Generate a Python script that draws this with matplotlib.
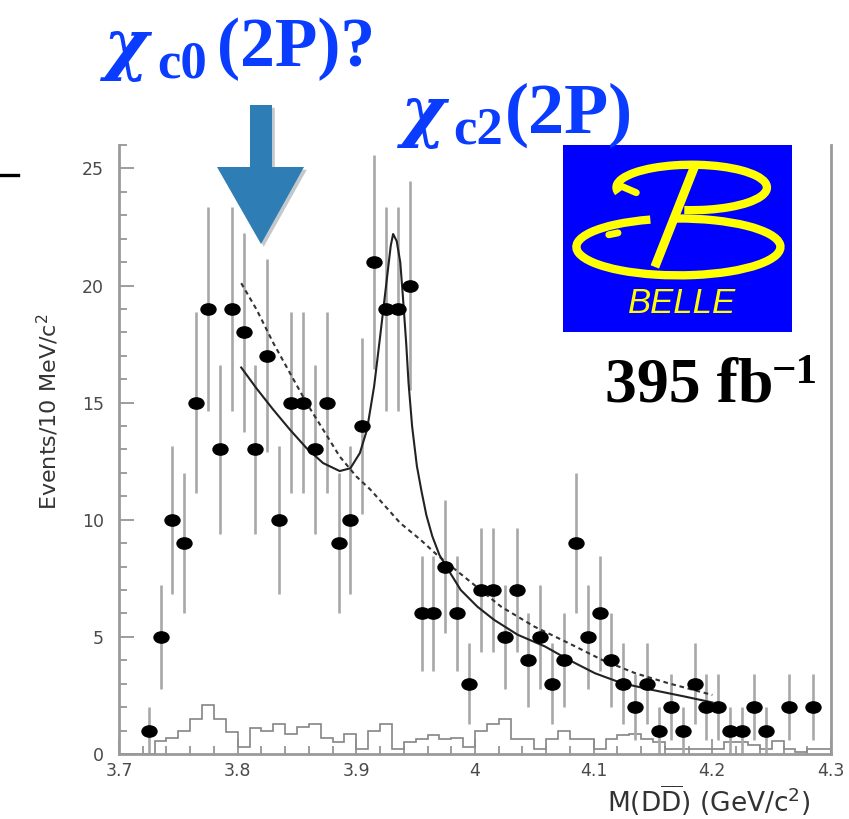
import numpy as np
import matplotlib
matplotlib.use("Agg")
import matplotlib.pyplot as plt
import matplotlib.patheffects as pe
from matplotlib.patches import Polygon, Arc
from matplotlib.path import Path
from matplotlib.transforms import Affine2D
from matplotlib.ticker import MultipleLocator, FixedLocator
from matplotlib.lines import Line2D

W, H = 849, 819


def fx(px):
    return px / W


def fy(py):
    return 1 - py / H


# data points (bin centres, 10 MeV bins)
mass = [3.725, 3.735, 3.745, 3.755, 3.765, 3.775, 3.785, 3.795, 3.805, 3.815,
        3.825, 3.835, 3.845, 3.855, 3.865, 3.875, 3.885, 3.895, 3.905, 3.915,
        3.925, 3.935, 3.945, 3.955, 3.965, 3.975, 3.985, 3.995, 4.005, 4.015,
        4.025, 4.035, 4.045, 4.055, 4.065, 4.075, 4.085, 4.095, 4.105, 4.115,
        4.125, 4.135, 4.145, 4.155, 4.165, 4.175, 4.185, 4.195, 4.205, 4.215,
        4.225, 4.235, 4.245, 4.255, 4.265, 4.275, 4.285]
counts = [1, 5, 10, 9, 15, 19, 13, 19, 18, 13,
          17, 10, 15, 15, 13, 15, 9, 10, 14, 21,
          19, 19, 20, 6, 6, 8, 6, 3, 7, 7,
          5, 7, 4, 5, 3, 4, 9, 5, 6, 4,
          3, 2, 3, 1, 2, 1, 3, 2, 2, 1,
          1, 2, 1, 0, 2, 0, 2]

# fit: signal + background (solid)
fit_x = [3.803, 3.816, 3.830, 3.844, 3.858, 3.872, 3.886, 3.895, 3.903, 3.909,
         3.915, 3.920, 3.926, 3.929, 3.931, 3.934, 3.937, 3.939, 3.942, 3.944,
         3.947, 3.951, 3.955, 3.959, 3.964, 3.970, 3.977, 3.988, 4.002, 4.016,
         4.036, 4.059, 4.079, 4.101, 4.124, 4.149, 4.177, 4.200]
fit_y = [16.5, 15.6, 14.7, 13.85, 13.06, 12.42, 12.08, 12.2, 12.85, 13.85,
         15.7, 17.8, 20.4, 21.7, 22.2, 21.9, 21.0, 19.7, 17.55, 15.84,
         13.99, 12.3, 11.2, 10.2, 9.3, 8.5, 7.9, 7.0, 6.29, 5.73,
         5.09, 4.59, 4.02, 3.45, 3.02, 2.74, 2.45, 2.2]

# background-only fit (dashed)
bkg_x = [3.803, 3.816, 3.830, 3.844, 3.858, 3.872, 3.886, 3.900, 3.912, 3.937,
         3.954, 3.968, 3.994, 4.022, 4.050, 4.079, 4.107, 4.135, 4.163, 4.200]
bkg_y = [20.1, 18.97, 17.55, 16.27, 14.99, 13.85, 12.7, 11.85, 11.28, 9.86,
         9.15, 8.5, 7.44, 6.29, 5.44, 4.73, 4.02, 3.45, 3.02, 2.52]

# sideband histogram (3.70 - 4.30, 10 MeV bins)
hist_vals = [0, 0, 0, 0.55, 0.7, 1.0, 1.5, 2.1, 1.5, 0.95,
             0.3, 1.1, 1.0, 1.3, 0.85, 1.15, 1.3, 0.7, 0.5, 0.85,
             0.2, 1.0, 1.3, 0.2, 0.5, 0.65, 0.8, 0.65, 0.7, 0.3,
             1.0, 1.3, 1.5, 0.65, 0.65, 0.2, 0.65, 1.0, 0.65, 0.65,
             0.2, 0.65, 0.8, 0.85, 0.65, 0.5, 0.2, 0.2, 0.2, 0.2,
             0.2, 0.5, 0.5, 0.4, 0.2, 0.55, 0.2, 0.1, 0.2, 0.2]
hist_edges = np.round(np.linspace(3.70, 4.30, len(hist_vals) + 1), 3)

xticks = [3.7, 3.8, 3.9, 4.0, 4.1, 4.2, 4.3]
xticklabels = ["3.7", "3.8", "3.9", "4", "4.1", "4.2", "4.3"]
yticks = [0, 5, 10, 15, 20, 25]

fig = plt.figure(figsize=(W / 100, H / 100), dpi=100)
ax = fig.add_axes([fx(119), fy(754), (831 - 119) / W, (754 - 145) / H])

m = np.array(mass)
c = np.array(counts, dtype=float)
ok = c > 0
err = np.sqrt(c[ok])

ax.stairs(hist_vals, hist_edges, color="#858585", lw=1.2)
ax.vlines(m[ok], c[ok] - err, c[ok] + err, color="#a8a8a8", lw=1.9, zorder=2)
ax.plot(bkg_x, bkg_y, color="#333333", lw=1.5, ls=(0, (2.2, 1.8)), zorder=3)
ax.plot(fit_x, fit_y, color="#222222", lw=1.5, zorder=3)
ell = Path.unit_circle().transformed(Affine2D().scale(1.0, 0.75))
ax.plot(m[ok], c[ok], ls="none", marker=ell, ms=10.8, color="black", zorder=4)

ax.set_xlim(3.7, 4.3)
ax.set_ylim(0, 26)
ax.xaxis.set_major_locator(FixedLocator(xticks))
ax.set_xticklabels(xticklabels)
ax.xaxis.set_minor_locator(MultipleLocator(0.02))
ax.yaxis.set_major_locator(FixedLocator(yticks))
ax.yaxis.set_minor_locator(MultipleLocator(1))
ax.tick_params(which="both", direction="in", color="#8c8c8c", width=1.2,
               top=False, right=False)
ax.tick_params(which="major", length=11)
ax.tick_params(which="minor", length=5.5)
ax.tick_params(axis="y", pad=11, labelsize=12.5, labelcolor="#4a4a4a")
ax.tick_params(axis="x", pad=6, labelsize=12.5, labelcolor="#4a4a4a")
for lab in ax.get_xticklabels() + ax.get_yticklabels():
    lab.set_fontfamily("DejaVu Sans")
ax.spines["top"].set_visible(False)
for s in ["left", "right", "bottom"]:
    ax.spines[s].set_color("#9a9a9a")
    ax.spines[s].set_linewidth(2)

fig.text(fx(48), fy(412), "Events/10 MeV/c$^2$", rotation=90, ha="center",
         va="center", fontsize=16, color="#333333", fontfamily="DejaVu Sans")
fig.text(fx(810), fy(812), r"M(D$\overline{\mathrm{D}}$) (GeV/c$^2$)", ha="right",
         va="baseline", fontsize=19, color="#333333", fontfamily="DejaVu Sans")

# titles
serif = "Liberation Serif"
blue = "#0a3cff"
kw = dict(fontweight="bold", color=blue, ha="left", va="baseline")
fig.text(fx(104), fy(67), "χ", fontfamily="DejaVu Serif", fontstyle="italic",
         fontsize=49, **kw)
fig.text(fx(157), fy(77), "c0", fontfamily=serif, fontsize=38, **kw)
fig.text(fx(217), fy(66), "(2P)?", fontfamily=serif, fontsize=50, **kw)
fig.text(fx(401), fy(134), "χ", fontfamily="DejaVu Serif", fontstyle="italic",
         fontsize=49, **kw)
fig.text(fx(453), fy(144), "c2", fontfamily=serif, fontsize=38, **kw)
fig.text(fx(505), fy(133), "(2P)", fontfamily=serif, fontsize=52, **kw)

kw2 = dict(fontfamily=serif, fontweight="bold", color="black", ha="left", va="baseline")
fig.text(fx(605), fy(402), "395 fb", fontsize=46, **kw2)
fig.text(fx(772), fy(383), "\u22121", fontsize=31, **kw2)

# arrow
arrow_px = [(250, 105), (272, 105), (272, 167), (304, 167), (261, 244), (217, 167), (250, 167)]
arrow = Polygon([(fx(x), fy(y)) for x, y in arrow_px], closed=True,
                transform=fig.transFigure, facecolor="#2e7db5", edgecolor="none",
                path_effects=[pe.SimplePatchShadow(offset=(2, -2), alpha=0.25), pe.Normal()])
fig.add_artist(arrow)

fig.add_artist(Line2D([0, fx(18)], [fy(175), fy(175)], color="black", lw=2.4,
                      transform=fig.transFigure))

# Belle logo
logo = fig.add_axes([fx(563), fy(332), (792 - 563) / W, (332 - 145) / H])
logo.set_facecolor("#0000ff")
logo.set_xlim(0, 1)
logo.set_ylim(0, 1)
logo.set_xticks([])
logo.set_yticks([])
for s in logo.spines.values():
    s.set_visible(False)
yel = "#ffff00"
logo.add_patch(Arc((0.562, 0.773), 0.657, 0.243, theta1=-105, theta2=185,
                   color=yel, lw=6))
logo.add_patch(Arc((0.504, 0.455), 0.891, 0.304, theta1=130, theta2=453,
                   color=yel, lw=6))
logo.plot([0.577, 0.401], [0.893, 0.348], color=yel, lw=6.5, solid_capstyle="butt")
logo.plot([0.235, 0.32], [0.79, 0.745], color=yel, lw=5, solid_capstyle="round")
logo.plot([0.2, 0.24], [0.52, 0.53], color=yel, lw=5, solid_capstyle="round")
logo.text(0.518, 0.152, "BELLE", color=yel, fontsize=25, fontstyle="italic",
          fontfamily="Liberation Sans", ha="center", va="center")

fig.savefig("out.png", dpi=100)
